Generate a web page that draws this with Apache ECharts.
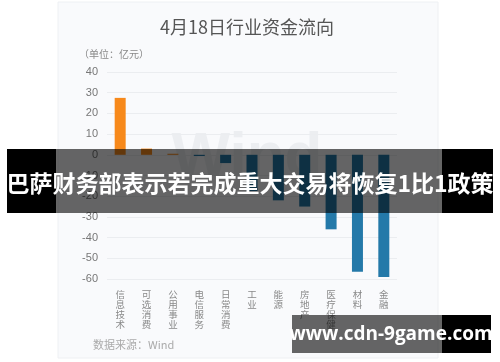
<!DOCTYPE html>
<html><head><meta charset="utf-8">
<script src="https://cdn.jsdelivr.net/npm/echarts@6/dist/echarts.min.js"></script>
<style>html,body{margin:0;padding:0;background:#fff}#c{width:500px;height:362px}</style>
</head><body><div id="c"></div>
<script>
var categories = ['信息技术','可选消费','公用事业','电信服务','日常消费','工业','能源','房地产','医疗保健','材料','金融'];
var values = [27.5, 3, 0.5, -0.6, -4, -17.5, -22, -25, -36, -56.5, -59];
var yTicks = {min: -60, max: 40, interval: 10};
var titleText = '4月18日行业资金流向';
var unitText = '（单位：亿元）';
var sourceText = '数据来源：Wind';
var bannerText = '巴萨财务部表示若完成重大交易将恢复1比1政策';
var siteText = 'www.cdn-9game.com';

var FONT = '"Noto Sans CJK SC","Noto Sans",sans-serif';
var chart = echarts.init(document.getElementById('c'), null, {renderer: 'canvas'});
chart.setOption({
  animation: false,
  backgroundColor: '#ffffff',
  grid: {left: 107, right: 103, top: 72, bottom: 83},
  xAxis: {
    type: 'category', data: categories,
    axisLine: {show: false}, axisTick: {show: false},
    axisLabel: {
      interval: 0, margin: 10, color: '#888', fontSize: 9.5, lineHeight: 10.2, fontFamily: FONT,
      verticalAlign: 'top',
      formatter: function (v) { return v.split('').join('\n'); }
    }
  },
  yAxis: {
    type: 'value', min: yTicks.min, max: yTicks.max, interval: yTicks.interval,
    axisLine: {show: false}, axisTick: {show: false},
    axisLabel: {color: '#777', fontSize: 11, margin: 9, fontFamily: 'Liberation Sans, Arial, sans-serif'},
    splitLine: {lineStyle: {color: '#ebedf0', width: 1}}
  },
  series: [{
    type: 'bar', barWidth: 11, z: 3,
    data: values.map(function (v) {
      return {value: v, itemStyle: {color: v >= 0 ? '#f7891b' : '#2479a9'}};
    })
  }],
  graphic: [
    {type: 'rect', z: -10, shape: {x: 58, y: 2, width: 380, height: 356},
     style: {fill: '#f9fafc', stroke: '#eef0f3', lineWidth: 1}},
    {type: 'text', z: -5, x: 247, y: 158,
     style: {text: 'Wind', fill: '#eceef1', font: 'bold 62px "Liberation Sans", Arial, sans-serif',
             align: 'center', verticalAlign: 'middle'}},
    {type: 'text', x: 247, y: 27,
     style: {text: titleText, fill: '#555', font: '18px ' + FONT, align: 'center', verticalAlign: 'middle'}},
    {type: 'text', x: 79, y: 54,
     style: {text: unitText, fill: '#888', font: '10px ' + FONT, align: 'left', verticalAlign: 'middle'}},
    {type: 'text', x: 93, y: 345,
     style: {text: sourceText, fill: '#aaa', font: '11px ' + FONT, align: 'left', verticalAlign: 'middle'}},
    {type: 'rect', z: 100, shape: {x: 7, y: 149, width: 49, height: 64}, style: {fill: '#000'}},
    {type: 'rect', z: 100, shape: {x: 56, y: 149, width: 386, height: 64}, style: {fill: 'rgba(0,0,0,0.6)'}},
    {type: 'rect', z: 100, shape: {x: 442, y: 149, width: 51, height: 64}, style: {fill: '#000'}},
    {type: 'text', z: 101, x: 250, y: 183,
     style: {text: bannerText, fill: '#fff', font: 'bold 23px ' + FONT, align: 'center', verticalAlign: 'middle'}},
    {type: 'rect', z: 100, shape: {x: 292, y: 315, width: 150, height: 38}, style: {fill: 'rgba(0,0,0,0.6)'}},
    {type: 'rect', z: 100, shape: {x: 442, y: 315, width: 49, height: 38}, style: {fill: '#000'}},
    {type: 'text', z: 101, x: 391, y: 335,
     style: {text: siteText, fill: '#fff', font: 'bold 19px "Open Sans", sans-serif', align: 'center', verticalAlign: 'middle'}}
  ]
});
</script></body></html>
